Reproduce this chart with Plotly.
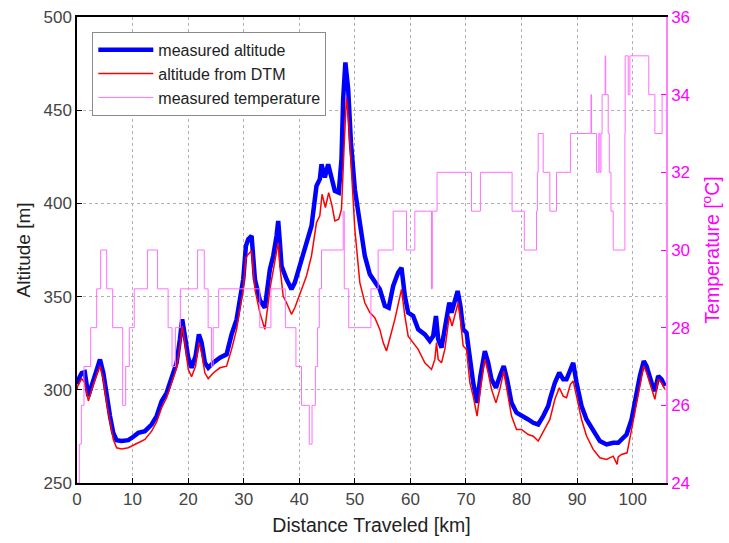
import plotly.graph_objects as go

# ---- data ----
alt_km = [0.0, 0.12, 0.84, 1.4, 2.04, 2.94, 3.54, 4.14, 4.74, 5.34, 5.94, 6.53, 7.13, 8.03, 9.23,
          10.13, 11.03, 12.23, 13.43, 14.33, 15.23, 16.13, 17.03, 17.93, 18.52, 18.94, 19.42,
          20.02, 20.62, 21.34, 21.94, 22.42, 23.02, 23.62, 24.52, 25.72, 26.92, 27.82, 28.72,
          29.32, 29.92, 30.4, 30.82, 31.42, 32.02, 32.91, 33.81, 34.71, 35.31, 35.91, 36.21,
          36.51, 36.81, 37.71, 38.6, 39.2, 40.4, 41.3, 42.2, 43.1, 43.7, 44.0, 44.6, 45.2, 45.8,
          46.4, 47.1, 47.6, 47.9, 48.3, 48.8, 49.3, 50.0, 50.9, 51.8, 52.7, 53.6, 54.5, 55.4,
          56.1, 56.9, 57.8, 58.4, 59.0, 59.6, 60.5, 61.4, 62.6, 63.5, 64.1, 64.6, 65.0, 65.6,
          66.2, 67.0, 67.4, 68.0, 68.5, 69.0, 69.5, 70.1, 70.7, 71.3, 72.0, 72.6, 73.4, 74.0,
          74.6, 75.4, 76.1, 76.8, 77.4, 78.2, 79.1, 80.3, 81.2, 82.1, 83.0, 83.9, 84.8, 85.1,
          86.0, 86.8, 87.5, 88.1, 88.8, 89.3, 89.9, 90.8, 91.7, 92.9, 94.1, 95.3, 96.5, 97.4,
          98.0, 98.9, 99.8, 100.7, 101.3, 102.0, 102.5, 103.4, 104.0, 104.6, 105.2, 105.8]
measured_alt = [303, 304.7, 309, 309.5, 296.6, 305.6, 311, 316.3, 309, 296.6, 285.9, 276.9, 273,
                272.5, 273, 274.8, 276.9, 277.8, 281.4, 285.9, 293.9, 298.4, 305.6, 314.5, 327.1,
                337.8, 328.8, 317.2, 311.8, 318.1, 329.7, 325.3, 314.5, 311.8, 314.5, 317.2, 319,
                329.7, 337.8, 350.3, 359.3, 377.2, 380.8, 382.6, 359.3, 348, 344, 364.6, 371.8,
                382.5, 390.6, 379, 366.4, 359.3, 353.9, 357.5, 370, 379, 387.9, 409.4, 413, 421,
                413.9, 421, 413.9, 406.7, 405.8, 423.7, 455.9, 475.6, 461.3, 432.7, 407.6, 387.9,
                371.8, 362, 358.4, 353.9, 345, 344, 355.7, 362.9, 365.5, 350.3, 341.4, 339.6,
                332.4, 329.7, 326.2, 328.8, 339.6, 327.1, 322.6, 332.4, 346.8, 341.4, 346.8, 353,
                345, 332.4, 330.6, 314.5, 303.8, 293, 307.4, 320.8, 314.5, 305.6, 301.1, 307.4,
                312.7, 305.6, 293, 287.7, 285.9, 284.1, 282.3, 281.4, 285.9, 291.3, 294.9, 303.8,
                309.2, 305.6, 305.6, 311, 314.5, 303.8, 291.3, 284.1, 277.8, 272.5, 270.7, 271.6,
                271.6, 273.4, 276, 284.1, 298.4, 307.4, 315.4, 312.7, 303.8, 299.3, 307.4, 305.6,
                302]

dtm_km = [0.0, 0.12, 0.84, 1.4, 2.04, 2.94, 4.14, 4.74, 5.34, 5.94, 6.53, 7.13, 8.03, 9.23, 10.13,
          11.03, 12.23, 13.43, 14.33, 15.23, 16.13, 17.03, 17.93, 18.52, 18.94, 19.42, 20.02,
          20.62, 21.34, 21.94, 22.42, 23.02, 23.62, 24.52, 25.72, 26.92, 27.82, 28.72, 29.32,
          29.92, 30.4, 30.82, 31.42, 32.02, 32.91, 33.81, 34.71, 35.31, 35.91, 36.21, 36.51,
          37.1, 37.71, 38.6, 39.2, 40.4, 41.3, 42.2, 43.1, 43.7, 44.1, 44.7, 45.3, 45.9, 46.4,
          47.1, 47.6, 48.1, 48.5, 48.9, 49.4, 50.0, 50.9, 51.8, 52.7, 53.6, 54.5, 55.1, 55.7,
          56.3, 57.2, 58.4, 59.0, 59.6, 60.5, 61.4, 62.6, 63.8, 64.4, 64.7, 65.0, 65.6, 66.2,
          67.0, 67.5, 68.0, 68.6, 69.0, 69.5, 70.1, 70.7, 71.3, 72.0, 72.6, 73.4, 74.0, 74.6,
          75.4, 76.1, 76.8, 77.4, 78.2, 79.1, 80.0, 81.2, 82.1, 83.0, 83.9, 84.8, 85.1, 86.0,
          86.8, 87.5, 88.1, 88.8, 89.3, 89.9, 90.8, 91.7, 92.9, 94.1, 95.3, 96.5, 97.2, 97.4,
          98.0, 99.0, 99.8, 100.7, 101.3, 102.0, 102.5, 103.4, 104.0, 104.6, 105.2, 105.8]
dtm_alt = [300, 302, 306, 303.8, 294, 302.9, 312.7, 305.6, 293, 282.3, 273.4, 268.9, 268.3, 268.9,
           270.1, 271.6, 273.4, 277.8, 282.7, 290.4, 295.7, 303.8, 311.8, 323.5, 334.2, 325.3,
           311, 307, 312.7, 325.3, 319.9, 309, 306, 309, 311.8, 312.7, 321.7, 332.4, 343.2,
           353.9, 370.9, 372.7, 374.5, 353.9, 341.4, 332.4, 353.9, 364.6, 373.6, 379, 366.4,
           350.3, 346.7, 340.5, 344, 353.9, 361.1, 371.8, 389.7, 393.3, 404.9, 397.8, 405.8,
           398.7, 390.6, 391.5, 396.9, 432.7, 456.8, 443.4, 414.8, 386.1, 357.5, 346.7, 341.4,
           338.7, 332.4, 325.3, 320.8, 327.1, 337.8, 353.9, 339.6, 328.8, 325.3, 321.7, 314.5,
           310.9, 316.3, 325.3, 316.3, 314.5, 321.7, 339.6, 334.2, 340.5, 346.8, 337.8, 323.5,
           321.7, 303.8, 296.6, 285.9, 300.2, 316.3, 309.2, 300.2, 293, 300.2, 310, 300.2, 285.9,
           278.7, 278.7, 276.0, 275.1, 272.5, 277.8, 282.3, 284.1, 294.9, 301.1, 296.6, 295.8,
           302.9, 304.7, 296.6, 284.1, 275.2, 268, 263.5, 262.6, 264.4, 260, 264, 265.3, 266.2,
           278.8, 293.1, 303.8, 312.8, 309.2, 300.2, 294.9, 305.6, 303.8, 300.2]

temp_km = [0, 0.42, 0.78, 1.26, 2.46, 3.54, 4.26, 5.34, 6.42, 8.22, 8.76, 9.41, 10.3, 12.7, 14.5,
           16.4, 17.1, 17.7, 18.6, 21.7, 22.9, 23.6, 24.2, 24.5, 25.5, 32.9, 34.9, 37.5, 39.4,
           40.4, 41.8, 42.3, 42.9, 43.3, 43.6, 44.0, 47.9, 48.1, 48.9, 52.9, 54.2, 56.9, 59.3,
           60.8, 63.8, 63.95, 64.8, 71.0, 72.6, 78.3, 80.5, 82.7, 82.85, 83.0, 83.9, 85.1, 86.3,
           88.8, 92.5, 92.6, 93.5, 93.9, 94.1, 94.3, 94.5, 95.05, 95.15, 95.6, 95.8, 96.1, 96.5,
           98.6, 98.65, 99.2, 99.5, 102.9, 104.0, 105.3, 106]
temp_c = [24, 25, 26, 27, 28, 29, 30, 29, 28, 26, 27, 28, 29, 30, 29, 28, 27, 28, 29, 30,
          29, 28, 27, 28, 29, 28, 29, 28, 27, 26, 25, 26, 27, 28, 29, 30, 31, 29, 28, 29,
          30, 31, 30, 31, 29, 31, 32, 31, 32, 31, 30, 31, 32, 33, 32, 31, 32, 33, 34, 33,
          32, 33, 32, 33, 34, 35, 34, 33, 32, 31, 30, 33, 35, 34, 35, 34, 33, 34, 34]

alt_ticks = [250, 300, 350, 400, 450, 500]
temp_ticks = [24, 26, 28, 30, 32, 34, 36]
x_ticks = [0, 10, 20, 30, 40, 50, 60, 70, 80, 90, 100]

FONT = "Liberation Sans, Arial, sans-serif"
MAG = "#ff00ff"

fig = go.Figure()
fig.add_trace(go.Scatter(x=alt_km, y=measured_alt, mode="lines", name="measured altitude",
                         line=dict(color="#0000ff", width=4.5)))
fig.add_trace(go.Scatter(x=dtm_km, y=dtm_alt, mode="lines", name="altitude from DTM",
                         line=dict(color="#ff0000", width=1.5)))
fig.add_trace(go.Scatter(x=temp_km, y=temp_c, mode="lines", name="measured temperature",
                         yaxis="y2", line=dict(color="#ff70ff", width=1, shape="hv")))

fig.update_layout(
    width=729, height=543,
    margin=dict(l=77, r=63, t=17, b=60, autoexpand=False),
    paper_bgcolor="white", plot_bgcolor="white",
    font=dict(family=FONT, size=17, color="#333333"),
    showlegend=True,
    legend=dict(x=0.026, y=0.968, xanchor="left", yanchor="top",
                bgcolor="white", bordercolor="#8a8a8a", borderwidth=1,
                font=dict(family=FONT, size=16, color="#222222"),
                itemwidth=55, tracegroupgap=0),
    xaxis=dict(range=[0, 106], tickvals=x_ticks, ticks="inside", ticklen=5, tickcolor="black",
               showline=True, linecolor="black", linewidth=1.5, mirror=True,
               showgrid=True, gridcolor="#b0b0b0", griddash="dot", gridwidth=1,
               zeroline=False, tickfont=dict(size=17, color="#444444"),
               title=dict(text="Distance Traveled [km]", standoff=10,
                          font=dict(size=19.5, color="#222222"))),
    yaxis=dict(range=[250, 500], tickvals=alt_ticks, ticks="inside", ticklen=5, tickcolor="black",
               showline=True, linecolor="black", linewidth=1.5,
               showgrid=True, gridcolor="#b0b0b0", griddash="dot", gridwidth=1,
               zeroline=False, tickfont=dict(size=17, color="#444444"),
               title=dict(text="Altitude [m]", standoff=8,
                          font=dict(size=19, color="#222222"))),
    yaxis2=dict(range=[24, 36], tickvals=temp_ticks, overlaying="y", side="right",
                ticks="inside", ticklen=5, tickcolor=MAG,
                showline=True, linecolor="#ff80ff", linewidth=1.5,
                showgrid=False, zeroline=False,
                tickfont=dict(size=17, color=MAG),
                title=dict(text="Temperature [<sup>o</sup>C]", standoff=16,
                           font=dict(size=19.5, color=MAG))),
)

fig.write_html("out.html", config={"displayModeBar": False},
               post_script="document.body.style.margin='0';")
